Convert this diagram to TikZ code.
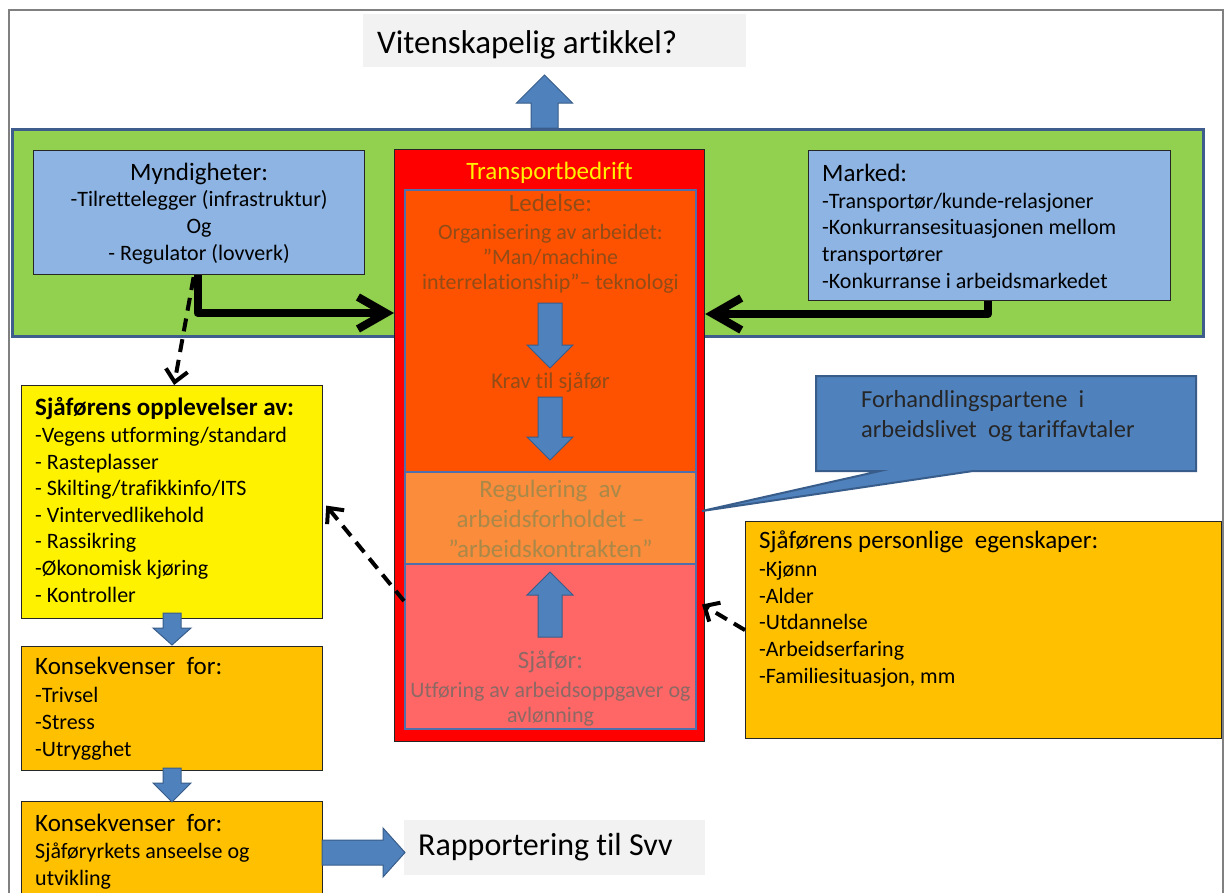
\documentclass[tikz,border=0pt]{standalone}
\usepackage{fontspec}
\setmainfont{Carlito}[Ligatures=NoCommon]
\usetikzlibrary{arrows.meta,positioning}

\definecolor{envgreen}{RGB}{146,208,80}
\definecolor{envline}{RGB}{62,92,140}
\definecolor{govblue}{RGB}{141,180,226}
\definecolor{arrblue}{RGB}{79,129,189}
\definecolor{arrline}{RGB}{56,93,138}
\definecolor{lederorange}{RGB}{255,82,0}
\definecolor{regorange}{RGB}{250,140,60}
\definecolor{drvred}{RGB}{255,102,102}
\definecolor{amber}{RGB}{255,192,0}
\definecolor{panelgrey}{RGB}{242,242,242}
\definecolor{subline}{RGB}{80,110,170}
\definecolor{ledtext}{RGB}{145,76,24}
\definecolor{regtext}{RGB}{170,136,72}
\definecolor{drvtext}{RGB}{140,105,100}

\tikzstyle{box} = [draw=black!85, line width=1.2pt, inner sep=0pt, anchor=north west]
\tikzstyle{subbox} = [box, draw=subline, line width=2pt]
\tikzstyle{panel} = [fill=panelgrey, inner sep=0pt, anchor=north west]
\tikzstyle{bodytxt} = [inner sep=0pt, font=\fontsize{22}{26.6}\selectfont]
\tikzstyle{lefttxt} = [bodytxt, anchor=base west, align=left]
\tikzstyle{midtxt} = [bodytxt, anchor=base, align=center]
\tikzstyle{blockarr} = [fill=arrblue, draw=arrline, line width=1pt]
\tikzstyle{thickarr} = [line width=8pt, line join=round, -{Straight Barb[length=28pt,width=32pt]}]
\tikzstyle{dasharr} = [line width=4pt, dash pattern=on 13pt off 8pt, -{Straight Barb[length=12pt,width=22pt]}]
\tikzstyle{calloutbox} = [fill=arrblue, draw=arrline, line width=2pt, line join=miter]

\newcommand{\headfont}{\fontsize{25}{28}\selectfont}

\begin{document}
\begin{tikzpicture}[x=1pt, y=-1pt]
\useasboundingbox (0,0) rectangle (1229,892);
\begin{scope}
\clip (0,0) rectangle (1229,892);
\fill[white] (0,0) rectangle (1229,892);
\draw[black!50, line width=1.5pt] (9,10) rectangle (1223,930);

% top and bottom panels (text nodes sit on the baseline of their last line)
\node[panel, minimum width=383, minimum height=53] (vit) at (363,14) {};
\node[lefttxt, font=\fontsize{33}{38}\selectfont] (vittxt) at ([shift={(14,39)}]vit.north west) {Vitenskapelig artikkel?};
\node[panel, minimum width=301, minimum height=55] (rap) at (404,820) {};
\node[lefttxt, font=\fontsize{32}{38}\selectfont] (raptxt) at ([shift={(14,35)}]rap.north west) {Rapportering til Svv};

% surroundings
\node[box, draw=envline, line width=2.5pt, fill=envgreen, minimum width=1191, minimum height=207] (env) at (11,128) {};
\node[box, fill=govblue, minimum width=331, minimum height=124] (myn) at (33,150) {};
\node[midtxt] (myntxt) at ([shift={(0,110)}]myn.north) {{\headfont Myndigheter:}\\-Tilrettelegger (infrastruktur)\\Og\\- Regulator (lovverk)};
\node[box, fill=govblue, minimum width=362, minimum height=150] (mk) at (808,150) {};
\node[lefttxt] (mktxt) at ([shift={(14,138)}]mk.north west) {{\headfont Marked:}\\-Transportør/kunde-relasjoner\\-Konkurransesituasjonen mellom\\transportører\\-Konkurranse i arbeidsmarkedet};

% the company
\node[box, fill=red, minimum width=310, minimum height=592] (tb) at (394,149) {};
\node[midtxt, text=yellow, font=\fontsize{25}{28}\selectfont] (tbtxt) at ([shift={(0,30)}]tb.north) {Transportbedrift};
\node[subbox, fill=lederorange, minimum width=291, minimum height=282] (led) at (404,189) {};
\node[midtxt, text=ledtext, font=\fontsize{22}{25}\selectfont] (ledtxt) at ([shift={(0,100)}]led.north) {{\headfont Ledelse:}\\[3pt]Organisering av arbeidet:\\”Man/machine\\interrelationship”– teknologi};
\node[midtxt, text=ledtext, font=\fontsize{22.5}{25}\selectfont] (krav) at ([shift={(0,199)}]led.north) {Krav til sjåfør};
\node[subbox, fill=regorange, minimum width=291, minimum height=92] (reg) at (404,471) {};
\node[midtxt, text=regtext, font=\fontsize{25}{30}\selectfont] (regtxt) at ([shift={(0,86)}]reg.north) {Regulering \ av\\arbeidsforholdet –\\”arbeidskontrakten”};
\node[subbox, fill=drvred, minimum width=291, minimum height=165] (sj) at (404,563) {};
\node[midtxt, text=drvtext, font=\fontsize{22}{25}\selectfont] (sjtxt) at ([shift={(0,159)}]sj.north) {{\headfont Sjåfør:}\\[4pt]Utføring av arbeidsoppgaver og\\avlønning};

% callout
\coordinate (fhtip) at ([shift={(5,-7)}]reg.east);
\draw[calloutbox] (816,376) -- (1196,376) -- (1196,471) -- (973,471) -- (fhtip) -- (880,471) -- (816,471) -- cycle;
\node[lefttxt, text=black!85, font=\fontsize{24.5}{30}\selectfont] (fhtxt) at (861,437) {Forhandlingspartene \ i\\arbeidslivet \ og tariffavtaler};

% driver side
\node[box, fill=amber, minimum width=476, minimum height=217] (pers) at (745,521) {};
\node[lefttxt] (perstxt) at ([shift={(14,162)}]pers.north west) {{\headfont Sjåførens personlige \ egenskaper:}\\[1.5pt]-Kjønn\\-Alder\\-Utdannelse\\-Arbeidserfaring\\-Familiesituasjon, mm};
\node[box, fill=yellow, minimum width=301, minimum height=233] (opl) at (21,385) {};
\node[lefttxt] (opltxt) at ([shift={(14,217)}]opl.north west) {{\bfseries\fontsize{25}{28}\selectfont Sjåførens opplevelser av:}\\-Vegens utforming/standard\\- Rasteplasser\\- Skilting/trafikkinfo/ITS\\- Vintervedlikehold\\- Rassikring\\-Økonomisk kjøring\\- Kontroller};
\node[box, fill=amber, minimum width=301, minimum height=124] (kons1) at (21,646) {};
\node[lefttxt] (kons1txt) at ([shift={(14,110)}]kons1.north west) {{\headfont Konsekvenser \ for:}\\[1.5pt]-Trivsel\\-Stress\\-Utrygghet};
\node[box, fill=amber, minimum width=301, minimum height=130] (kons2) at (21,801) {};
\node[lefttxt] (kons2txt) at ([shift={(14,84)}]kons2.north west) {{\headfont Konsekvenser \ for:}\\Sjåføryrkets anseelse og\\utvikling};

% block arrows: centre/base/neck/tip/half shaft/half head
\foreach \c/\b/\n/\t/\s/\h in {544.5/128/103/75/13.5/28, 550/303/345/368/12/23, 550/397/437/460/12/23, 550/637/595/572/12/23, 172/613/628/645/9/19, 172/768/783/802/9/19}
  \draw[blockarr] (\c-\s,\b) -- (\c+\s,\b) -- (\c+\s,\n) -- (\c+\h,\n) -- (\c,\t) -- (\c-\h,\n) -- (\c-\s,\n) -- cycle;
\draw[blockarr] (322,840) -- (383,840) -- (383,828) -- (405,852.5) -- (383,877) -- (383,865) -- (322,865) -- cycle;

% influences
\coordinate (mynbend) at (197.5,313);
\coordinate (mkbend) at (988,314);
\draw[thickarr] (myn.south -| mynbend) -- (mynbend) -- (mynbend -| tb.west);
\draw[thickarr] (mk.south -| mkbend) -- (mkbend) -- (mkbend -| tb.east);
\draw[dasharr] ([shift={(-5.5,2)}]myn.south) -- ([shift={(2,0)}]opl.north);
\draw[dasharr] ([shift={(0,-45.5)}]sj.west) -- ([shift={(3,3.5)}]opl.east);
\draw[dasharr] (pers.west) -- ([shift={(5,-42)}]sj.east);
\end{scope}
\end{tikzpicture}
\end{document}
